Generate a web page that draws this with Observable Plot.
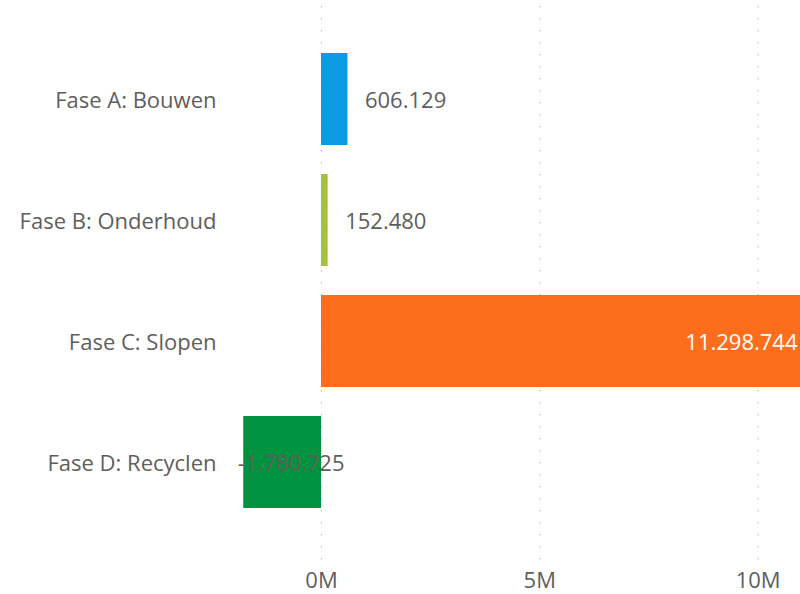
<!DOCTYPE html>
<html>
<head>
<meta charset="utf-8">
<script src="https://cdn.jsdelivr.net/npm/d3@7"></script>
<script src="https://cdn.jsdelivr.net/npm/@observablehq/plot@0.6"></script>
<style>
  html, body { margin: 0; padding: 0; background: #fff; }
  #chart svg { display: block; }
</style>
</head>
<body>
<div id="chart"></div>
<script>
const phases = ["Fase A: Bouwen", "Fase B: Onderhoud", "Fase C: Slopen", "Fase D: Recyclen"];
const values = [606129, 152480, 11298744, -1780725];
const colors = ["#0a9be2", "#a6c23a", "#fd6e1c", "#01923f"];
const xTicks = [0, 5000000, 10000000];

const data = phases.map((p, i) => ({phase: p, value: values[i], color: colors[i]}));
const fmt = v => (v < 0 ? "-" : "") + d3.format(",")(Math.abs(v)).replace(/,/g, ".");
const textColor = "#605e5c";
const font = "'Open Sans', 'Noto Sans', sans-serif";
const fs = 22;

const chart = Plot.plot({
  width: 800,
  height: 594,
  marginLeft: 230,
  marginRight: 0,
  marginTop: 23,
  marginBottom: 55,
  style: {fontFamily: font, fontSize: fs + "px", color: textColor, background: "#fff"},
  x: {domain: [-2084000, 10971000], ticks: xTicks, tickFormat: d => d / 1e6 + "M", label: null},
  y: {domain: phases, padding: 0.238, label: null},
  marks: [
    Plot.gridX(xTicks, {stroke: "#bdbdbd", strokeOpacity: 1, strokeDasharray: "1.5,10.5", strokeWidth: 1.2, insetTop: -17, insetBottom: -23}),
    Plot.barX(data, {x: "value", y: "phase", fill: "color", clip: true}),
    Plot.text(data.filter(d => d.value >= 0 && d.value < 5e6), {x: "value", y: "phase", text: d => fmt(d.value), textAnchor: "start", dx: 17, dy: 1, fill: textColor, fontSize: fs}),
    Plot.text(data.filter(d => d.value >= 5e6), {x: () => 10971000, y: "phase", text: d => fmt(d.value), textAnchor: "end", dx: -3, dy: 1, fill: "#ffffff", fontSize: fs}),
    Plot.text(data.filter(d => d.value < 0), {x: () => 0, y: "phase", text: d => fmt(d.value), textAnchor: "end", dx: 23, dy: 1, fill: textColor, fontSize: fs}),
    Plot.axisY({tickSize: 0, tickPadding: 14, fontSize: fs, fill: textColor, dy: 1}),
    Plot.axisX({ticks: xTicks, tickFormat: d => d / 1e6 + "M", tickSize: 0, tickPadding: 33, fontSize: fs, fill: textColor, label: null})
  ]
});
document.getElementById("chart").appendChild(chart);
</script>
</body>
</html>
